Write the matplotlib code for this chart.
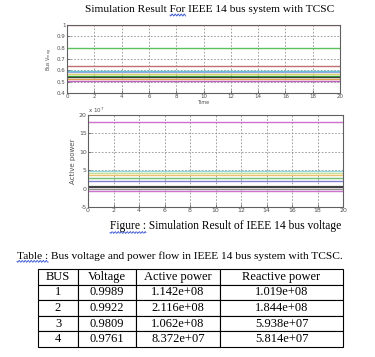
import numpy as np
import matplotlib
matplotlib.use("Agg")
import matplotlib.pyplot as plt
from matplotlib.lines import Line2D

plt.rcParams["axes.unicode_minus"] = False

# ---- data ----
time = [0, 20]
volt_levels = [1.0, 0.8, 0.64, 0.595, 0.585, 0.565, 0.552, 0.54, 0.525, 0.505]
volt_colors = ["#e07a7a", "#5cc05c", "#c07070", "#5fc8d8", "#90a8e0",
               "#e0d070", "#30b030", "#404040", "#e0a050", "#c060c0"]
power_levels = [18.0, 4.7, 4.3, 3.8, 3.0, 2.0, 0.3, 0.0, -0.7]
power_colors = ["#d070d0", "#90d8e0", "#c8e090", "#f0c070", "#70c070",
                "#8080d0", "#404040", "#909090", "#d070d0"]
table_cols = ["BUS", "Voltage", "Active power", "Reactive power"]
table_rows = [["1", "0.9989", "1.142e+08", "1.019e+08"],
              ["2", "0.9922", "2.116e+08", "1.844e+08"],
              ["3", "0.9809", "1.062e+08", "5.938e+07"],
              ["4", "0.9761", "8.372e+07", "5.814e+07"]]

W, H = 375, 357
fig = plt.figure(figsize=(3.75, 3.57), dpi=100)
fig.patch.set_facecolor("white")
serif = "Liberation Serif"

def fx(px):
    return px / W

def fy(py):
    return 1 - py / H

def style_axes(ax, fs):
    ax.grid(True, linestyle=(0, (2, 2)), color="#909090", linewidth=0.6)
    ax.tick_params(labelsize=fs, length=2, width=0.5, pad=1, colors="#505050",
                   direction="in")
    for s in ax.spines.values():
        s.set_color("#606060")
        s.set_linewidth(0.8)

# ---- top plot ----
ax1 = fig.add_axes([fx(67), fy(93), fx(340 - 67), (93 - 25) / H])
for v, c in zip(volt_levels, volt_colors):
    ax1.plot(time, [v, v], color=c, linewidth=1.0)
ax1.set_xlim(0, 20)
ax1.set_ylim(0.4, 1.0)
ax1.set_xticks(range(0, 21, 2))
ax1.set_yticks(np.arange(0.4, 1.01, 0.1))
ax1.set_yticklabels(["0.4", "0.5", "0.6", "0.7", "0.8", "0.9", "1"])
style_axes(ax1, 4)
ax1.set_xlabel("Time", fontsize=3.5, labelpad=0.5, color="#505050")
ax1.set_ylabel("Bus V$_{mag}$", fontsize=3.5, labelpad=1, color="#505050")

# ---- bottom plot ----
ax2 = fig.add_axes([fx(88), fy(207), fx(343 - 88), (207 - 115) / H])
for v, c in zip(power_levels, power_colors):
    lw = 1.6 if c == "#404040" else 1.0
    ax2.plot(time, [v, v], color=c, linewidth=lw)
ax2.set_xlim(0, 20)
ax2.set_ylim(-5, 20)
ax2.set_xticks(range(0, 21, 2))
ax2.set_yticks(range(-5, 21, 5))
style_axes(ax2, 4.5)
ax2.set_ylabel("Active power", fontsize=5, labelpad=2, color="#505050")
ax2.text(0.0, 1.0, "x 10$^7$", transform=ax2.transAxes, fontsize=4,
         color="#505050", ha="left", va="bottom")

# ---- captions ----
renderer = fig.canvas.get_renderer()

def caption(x, y, s, fs, ha, wavy_prefix, wavy_word):
    t = fig.text(fx(x), fy(y), s, family=serif, fontsize=fs, ha=ha, va="center")
    bb = t.get_window_extent(renderer)
    # locate the underlined word
    tmp = fig.text(0, 0, wavy_prefix, family=serif, fontsize=fs)
    wpre = tmp.get_window_extent(renderer).width if wavy_prefix else 0
    tmp.set_text(wavy_word)
    wword = tmp.get_window_extent(renderer).width
    tmp.remove()
    x0 = bb.x0 + wpre
    x1 = x0 + wword
    ybase = H - bb.y0  # pixel from top
    xs = np.linspace(x0, x1, 40)
    ys = ybase + 0.5 + 1.0 * np.sin((xs - x0) / 3.0 * 2 * np.pi)
    fig.add_artist(Line2D(xs / W, 1 - ys / H, color="#3050d0", linewidth=0.6))

caption(210, 10, "Simulation Result For IEEE 14 bus system with TCSC", 8.2,
        "center", "Simulation Result ", "For")
caption(110, 226, "Figure : Simulation Result of IEEE 14 bus voltage", 8.3,
        "left", "", "Figure :")
caption(17, 256,
        "Table : Bus voltage and power flow in IEEE 14 bus system with TCSC.",
        8.2, "left", "", "Table :")

# ---- table ----
tx0, tx1, ty0, ty1 = 38, 343, 269, 347
axt = fig.add_axes([fx(tx0), fy(ty1), fx(tx1 - tx0), (ty1 - ty0) / H])
axt.axis("off")
widths = np.array([40, 58, 84, 123], dtype=float)
tbl = axt.table(cellText=table_rows, colLabels=table_cols, cellLoc="center",
                colWidths=list(widths / widths.sum()), bbox=[0, 0, 1, 1])
tbl.auto_set_font_size(False)
for (r, c), cell in tbl.get_celld().items():
    cell.set_linewidth(0.8)
    cell.set_edgecolor("black")
    cell.get_text().set_fontsize(9)
    cell.get_text().set_family(serif)

fig.savefig("out.png", dpi=100, facecolor="white")
